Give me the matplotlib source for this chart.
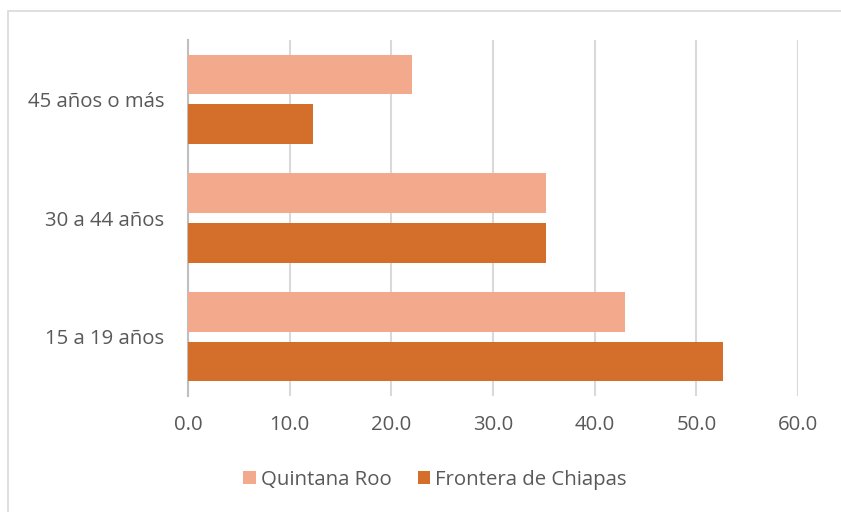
import matplotlib.pyplot as plt
import numpy as np
from matplotlib.patches import Rectangle

# datos
grupos = ["15 a 19 años", "30 a 44 años", "45 años o más"]
quintana_roo = [43.0, 35.2, 22.0]
frontera_chiapas = [52.6, 35.2, 12.3]
ticks_x = [0, 10, 20, 30, 40, 50, 60]

col_qr = "#F2A98C"
col_fc = "#D36F2A"
gris_txt = "#595959"

plt.rcParams['font.family'] = ['Open Sans', 'DejaVu Sans']

fig = plt.figure(figsize=(8.41, 5.12), dpi=100)
ax = fig.add_axes([188/841, 1 - 396/512, (798 - 188)/841, (396 - 40)/512])

y = np.arange(len(grupos))
h = 0.333
off = 0.209
ax.barh(y + off, quintana_roo, height=h, color=col_qr, label="Quintana Roo", zorder=3)
ax.barh(y - off, frontera_chiapas, height=h, color=col_fc, label="Frontera de Chiapas", zorder=3)

ax.set_xlim(0, 60)
ax.set_ylim(-0.5, 2.5)
ax.set_xticks(ticks_x)
ax.set_xticklabels([f"{t:.1f}" for t in ticks_x])
ax.set_yticks(y)
ax.set_yticklabels(grupos)
ax.tick_params(axis='both', length=0, labelsize=14.7, labelcolor=gris_txt)
ax.tick_params(axis='y', pad=17)
ax.tick_params(axis='x', pad=14)
ax.grid(axis='x', color="#D9D9D9", linewidth=1.5, zorder=0)
for s in ["top", "right", "bottom"]:
    ax.spines[s].set_visible(False)
ax.spines["left"].set_color("#BFBFBF")
ax.spines["left"].set_linewidth(1.5)

ax.legend(loc="center", bbox_to_anchor=(435/841, 1 - 480/512), bbox_transform=fig.transFigure,
          ncol=2, frameon=False, fontsize=14.7, handlelength=0.6, handleheight=0.6,
          handletextpad=0.25, columnspacing=1.3, labelcolor=gris_txt)

# marco del grafico
fig.patches.append(Rectangle((8/841, -0.1), 1.2, 1 - 11/512 + 0.1, transform=fig.transFigure,
                             fill=False, edgecolor="#D9D9D9", linewidth=1.2))

fig.savefig("out.png", dpi=100)
